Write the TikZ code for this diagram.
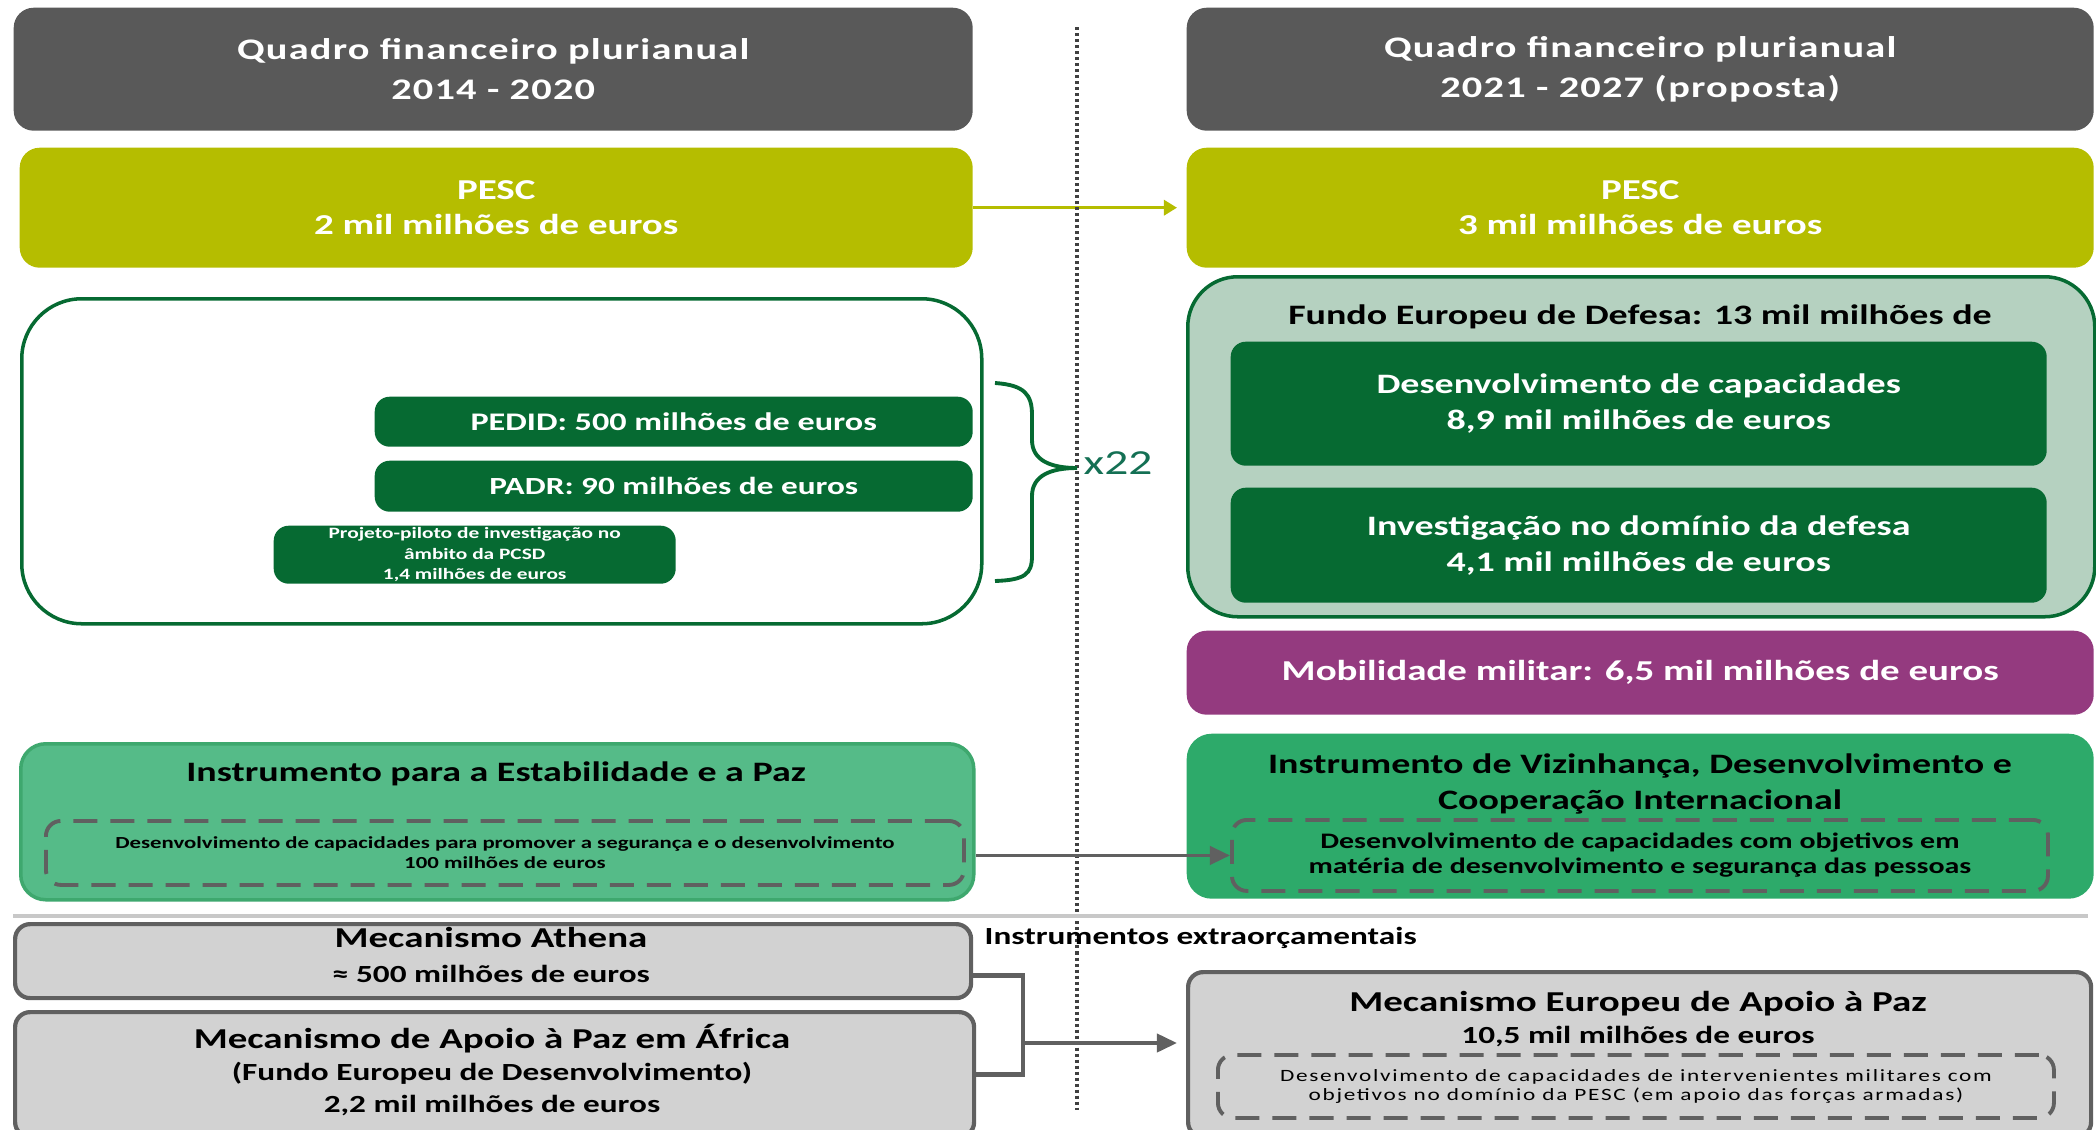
\documentclass[tikz,border=0pt]{standalone}
\usepackage{fontspec}
\setmainfont{Carlito}[FakeStretch=1.35]
\newfontfamily\hdrfont{Carlito}[FakeStretch=1.35,LetterSpace=4]
\newfontfamily\spfont{Carlito}[FakeStretch=1.35,LetterSpace=10]
\usetikzlibrary{arrows.meta}
\newcommand\setfs[2]{\fontsize{#1}{#2}\selectfont}
\definecolor{hdrgray}{RGB}{89,89,89}
\definecolor{pescolive}{RGB}{181,189,0}
\definecolor{dkgreen}{RGB}{6,106,50}
\definecolor{edfgreen}{RGB}{181,209,192}
\definecolor{mobpurple}{RGB}{148,58,127}
\definecolor{ndgreen}{RGB}{45,170,106}
\definecolor{ispgreen}{RGB}{85,187,136}
\definecolor{ispedge}{RGB}{62,168,110}
\definecolor{boxgray}{RGB}{210,210,210}
\definecolor{linegray}{RGB}{96,96,96}
\definecolor{sepgray}{RGB}{200,200,200}
\definecolor{tealx}{RGB}{20,112,84}
\begin{document}
\begin{tikzpicture}[x=0.01cm,y=-0.01cm,
 sz/.style 2 args={minimum width=#1*0.01cm,minimum height=#2*0.01cm},
 cell/.style={anchor=north west,inner sep=0pt,align=center,font=\bfseries},
 hdr/.style={cell,fill=hdrgray,text=white,rounded corners=0.2cm,font=\hdrfont\bfseries\setfs{8.5}{11.4}},
 pesc/.style={cell,fill=pescolive,text=white,rounded corners=0.2cm,font=\bfseries\setfs{8.2}{10.2}},
 dkbox/.style={cell,fill=dkgreen,text=white,rounded corners=0.15cm},
 graybox/.style={cell,fill=boxgray,draw=linegray,line width=1.2pt,rounded corners=0.15cm,text=black},
 dashbox/.style={cell,draw=linegray,dash pattern=on 0.24cm off 0.13cm,line width=1.1pt,rounded corners=0.15cm,text=black},
 lbl/.style={inner sep=0pt,align=center,font=\bfseries,text=black},
 arr/.style={-{Triangle[length=0.2cm,width=0.18cm]},draw=linegray,line width=1.1pt},
]
\useasboundingbox (0,0) rectangle (2096,1130);
\clip (0,0) rectangle (2096,1130);

\node[hdr,sz={959}{123}] (hdrL) at (13,7) {Quadro financeiro plurianual\\2014 - 2020};
\node[hdr,sz={907}{123}] (hdrR) at (1186,7) {Quadro financeiro plurianual\\2021 - 2027 (proposta)};
\node[pesc,sz={953}{120}] (pescL) at (19,147) {PESC\\2 mil milhões de euros};
\node[pesc,sz={907}{120}] (pescR) at (1186,147) {PESC\\3 mil milhões de euros};
\draw[-{Triangle[length=0.13cm,width=0.15cm]},draw=pescolive,fill=pescolive,line width=0.9pt,shorten >=0.09cm] (pescL.east) -- (pescR.west);

\draw[line width=1.1pt,black!75,dash pattern=on 0.03cm off 0.03cm] (1077,27) -- (1077,1110);

\node[cell,draw=dkgreen,line width=1pt,rounded corners=0.6cm,sz={960}{325}] (pedidBox) at (20,297) {};
\node[dkbox,sz={598}{50},font=\bfseries\setfs{7.2}{9}] (pedid) at (374,396) {PEDID: 500 milhões de euros};
\node[dkbox,sz={598}{51},font=\bfseries\setfs{7}{9}] (padr) at (374,460) {PADR: 90 milhões de euros};
\node[dkbox,sz={402}{58},font=\bfseries\setfs{4.5}{5.9}] (pilot) at (273,525) {Projeto-piloto de investigação no\\âmbito da PCSD\\1,4 milhões de euros};
\draw[dkgreen,line width=1.1pt] (995,383) .. controls (1025,385) and (1032,395) .. (1032,415) -- (1032,440) .. controls (1032,460) and (1050,468) .. (1077,468) .. controls (1050,468) and (1032,476) .. (1032,496) -- (1032,556) .. controls (1032,574) and (1025,580) .. (995,581);
\node[anchor=west,inner sep=0pt,text=tealx,font=\setfs{10}{12}] (x22) at (1083,463) {x22};

\node[cell,fill=edfgreen,draw=dkgreen,line width=1pt,rounded corners=0.5cm,sz={907}{340}] (edf) at (1186,275) {};
\node[lbl,font=\bfseries\setfs{8}{10}] (edfT) at (1640,317) {Fundo Europeu de Defesa: 13 mil milhões de};
\node[dkbox,sz={816}{124},font=\bfseries\setfs{8}{10.2}] (devcap) at (1230,341) {Desenvolvimento de capacidades\\8,9 mil milhões de euros};
\node[dkbox,sz={816}{115},font=\bfseries\setfs{8}{10.2}] (invdef) at (1230,487) {Investigação no domínio da defesa\\4,1 mil milhões de euros};
\node[cell,fill=mobpurple,text=white,rounded corners=0.2cm,sz={907}{84},font=\bfseries\setfs{8.2}{10}] (mob) at (1186,630) {Mobilidade militar: 6,5 mil milhões de euros};

\node[cell,fill=ispgreen,draw=ispedge,line width=1pt,rounded corners=0.25cm,sz={953}{156}] (isp) at (19,742) {};
\node[lbl,font=\bfseries\setfs{8}{10}] (ispT) at (496,774) {Instrumento para a Estabilidade e a Paz};
\node[dashbox,sz={918}{64},font=\bfseries\setfs{4.8}{5.7}] (ispD) at (44,819) {Desenvolvimento de capacidades para promover a segurança e o desenvolvimento\\100 milhões de euros};
\node[cell,fill=ndgreen,rounded corners=0.25cm,sz={907}{165}] (ndici) at (1186,733) {};
\node[lbl,font=\bfseries\setfs{8}{10.2}] (ndiciT) at (1640,784) {Instrumento de Vizinhança, Desenvolvimento e\\Cooperação Internacional};
\node[dashbox,sz={816}{71},font=\bfseries\setfs{6.3}{7.1}] (ndiciD) at (1230,818) {Desenvolvimento de capacidades com objetivos em\\matéria de desenvolvimento e segurança das pessoas};
\draw[arr] (ndiciD.west -| isp.east) -- (ndiciD.west);

\draw[sepgray,line width=1.2pt] (13,916) -- (2088,916);
\node[lbl,anchor=west,font=\bfseries\setfs{7}{9}] (extra) at (984,938) {Instrumentos extraorçamentais};

\node[graybox,sz={956}{74}] (athena) at (13,922) {};
\node[lbl,font=\bfseries\setfs{7}{10.2}] (athenaT) at (491,955) {{\setfs{8.2}{10.2}Mecanismo Athena}\\≈ 500 milhões de euros};
\node[graybox,sz={959}{125}] (africa) at (13,1010) {};
\node[lbl,font=\bfseries\setfs{7}{9.2}] (africaT) at (492,1070) {{\setfs{8.2}{9.2}Mecanismo de Apoio à Paz em África}\\(Fundo Europeu de Desenvolvimento)\\2,2 mil milhões de euros};
\node[graybox,sz={903}{165}] (mep) at (1186,970) {};
\node[lbl,font=\bfseries\setfs{7}{9.1}] (mepT) at (1638,1019) {{\setfs{8.2}{9.1}Mecanismo Europeu de Apoio à Paz}\\10,5 mil milhões de euros};
\node[dashbox,sz={836}{63},font=\spfont\setfs{4.9}{5.4}] (mepD) at (1216,1053) {Desenvolvimento de capacidades de intervenientes militares com\\objetivos no domínio da PESC (em apoio das forças armadas)};
\coordinate (jn) at (1023,1043);
\draw[linegray,line width=1.4pt] ([yshift=-0.14cm]athena.east) -| (jn) |- (africa.east);
\draw[arr,shorten >=0.09cm] (jn) -- (jn -| mep.west);
\end{tikzpicture}
\end{document}
